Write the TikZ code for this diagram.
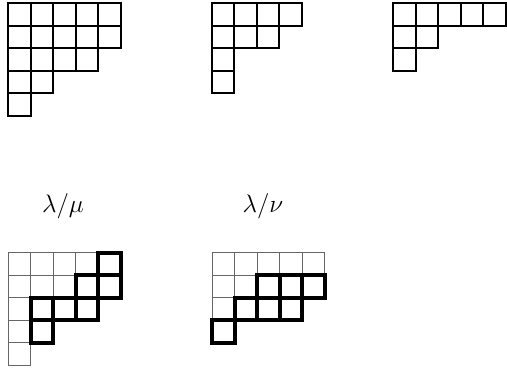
\documentclass[tikz,border=0pt]{standalone}
\tikzset{
  cellA/.style={draw=black,line width=1.2pt,line join=miter},
  cellthin/.style={draw=black!60,line width=0.6pt},
  cellbold/.style={draw=black,line width=2.3pt,line join=miter},
  lbl/.style={font=\Large,inner sep=0pt}
}
\begin{document}
\begin{tikzpicture}[x=0.02cm,y=-0.02cm]
\useasboundingbox (0,0) rectangle (507,370);
% top row: lambda, mu, nu
\begin{scope}[shift={(8.3,3.3)},x=0.45cm,y=-0.45cm]
  \foreach \r/\n in {1/5,2/5,3/4,4/2,5/1}
    \foreach \c in {1,...,\n}
      \draw[cellA] (\c-1,\r-1) rectangle (\c,\r);
\end{scope}
\begin{scope}[shift={(211.7,3.3)},x=0.45cm,y=-0.45cm]
  \foreach \r/\n in {1/4,2/3,3/1,4/1}
    \foreach \c in {1,...,\n}
      \draw[cellA] (\c-1,\r-1) rectangle (\c,\r);
\end{scope}
\begin{scope}[shift={(393.3,3.3)},x=0.45cm,y=-0.45cm]
  \foreach \r/\n in {1/5,2/2,3/1}
    \foreach \c in {1,...,\n}
      \draw[cellA] (\c-1,\r-1) rectangle (\c,\r);
\end{scope}
% labels
\node[lbl] (lmu) at (63,206) {$\lambda/\mu$};
\node[lbl] (lnu) at (263,206) {$\lambda/\nu$};
% bottom left: lambda/mu
\begin{scope}[shift={(8.3,252.7)},x=0.45cm,y=-0.45cm]
  \foreach \r/\n in {1/5,2/5,3/4,4/2,5/1}
    \foreach \c in {1,...,\n}
      \draw[cellthin] (\c-1,\r-1) rectangle (\c,\r);
  \foreach \r/\c in {1/5,2/4,2/5,3/2,3/3,3/4,4/2}
    \draw[cellbold] (\c-1,\r-1) rectangle (\c,\r);
\end{scope}
% bottom middle: lambda/nu
\begin{scope}[shift={(212.2,252.7)},x=0.45cm,y=-0.45cm]
  \foreach \r/\n in {1/5,2/2,3/1}
    \foreach \c in {1,...,\n}
      \draw[cellthin] (\c-1,\r-1) rectangle (\c,\r);
  \foreach \r/\c in {2/3,2/4,2/5,3/2,3/3,3/4,4/1}
    \draw[cellbold] (\c-1,\r-1) rectangle (\c,\r);
\end{scope}
\end{tikzpicture}
\end{document}
